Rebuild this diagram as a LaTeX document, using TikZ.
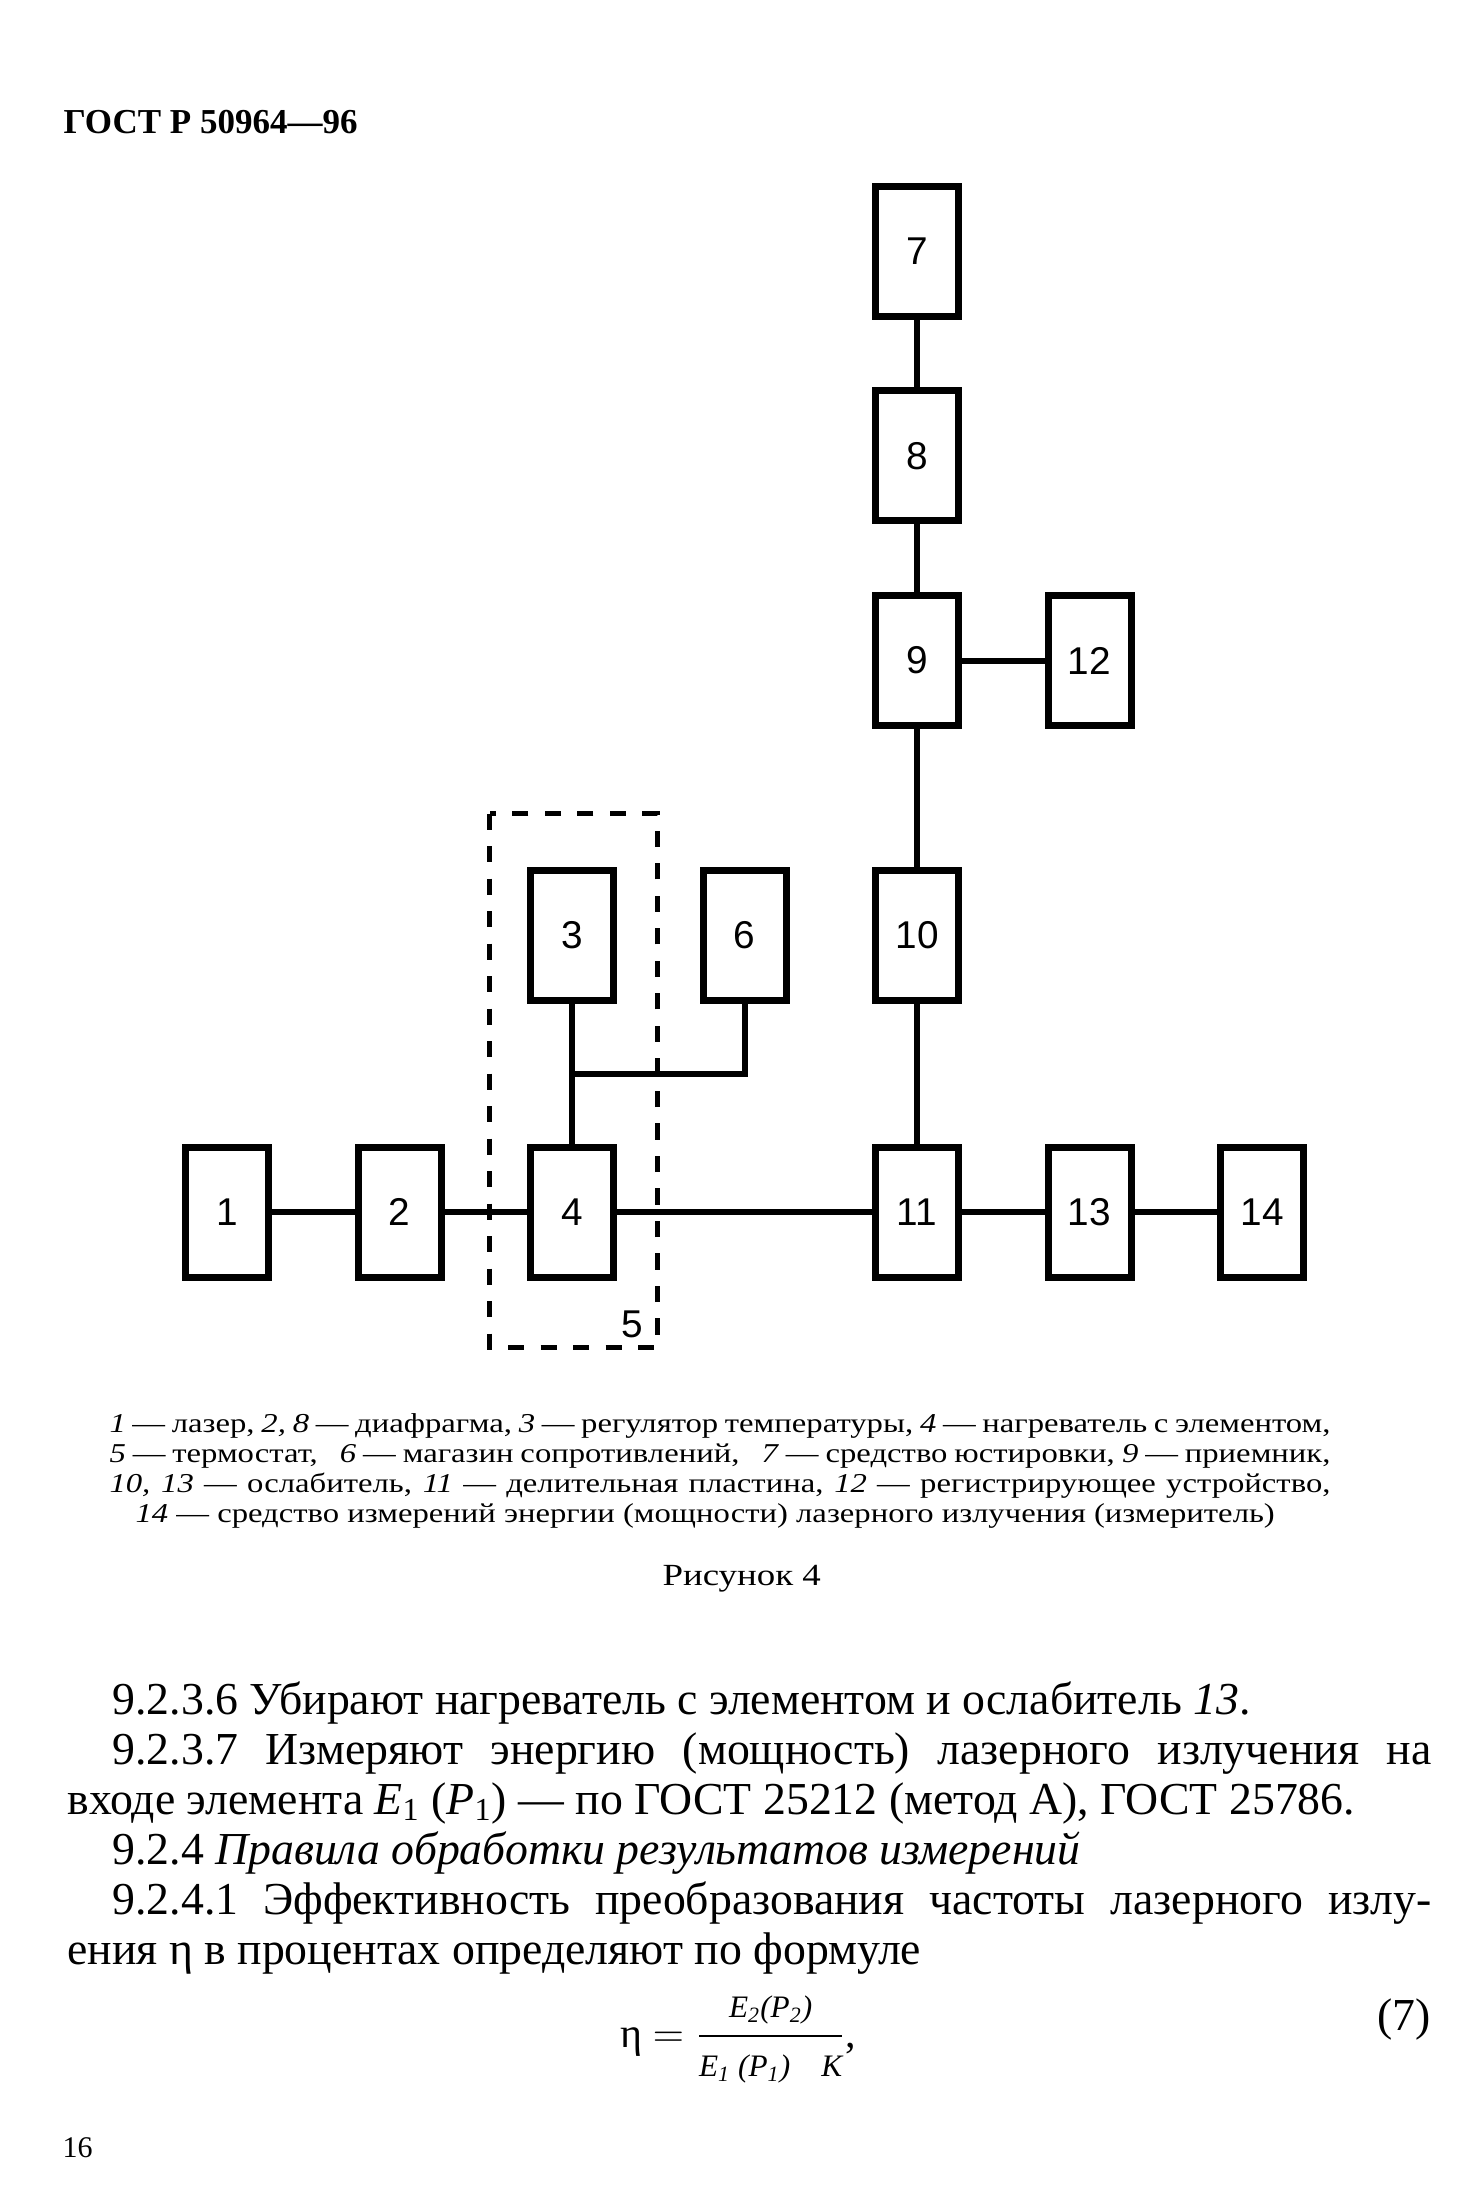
\documentclass[tikz,border=0pt]{standalone}
\usepackage{amsmath}
\usepackage{fontspec}
\setmainfont{Liberation Serif}
\newfontfamily\blockfont{Liberation Sans}
\newfontfamily\capfont[FakeStretch=1.2]{Liberation Serif}
\usetikzlibrary{positioning,calc}

\begin{document}
\begin{tikzpicture}[
      x=0.4pt, y=-0.4pt,
      block/.style={draw, line width=2.8pt, minimum width=33.2pt, minimum height=52pt,
                    inner sep=0pt, font=\blockfont\fontsize{15.5}{18}\selectfont},
      wire/.style={line width=2.4pt},
      frame/.style={line width=2pt, dash pattern=on 6.5pt off 6.5pt},
      txt/.style={anchor=base west, inner sep=0pt},
      legend/.style={txt, font=\capfont\fontsize{10.9}{12}\selectfont},
      body/.style={txt, font=\fontsize{18.3}{20}\selectfont},
    ]
    \path[fill=white] (0,0) rectangle (1482,2200);
    \useasboundingbox (0,0) rectangle (1482,2200);
    \node[txt, font=\bfseries\fontsize{14}{16}\selectfont] (head) at (63,133) {ГОСТ Р 50964—96};
    \node[block] (laser) at (227,1212) {1};
    \node[block, right=33pt of laser] (diaA) {2};
    \node[block, right=33pt of diaA] (heater) {4};
    \node[block, right=102pt of heater] (split) {11};
    \node[block, right=33pt of split] (attB) {13};
    \node[block, right=33pt of attB] (meter) {14};
    \node[block, above=56pt of heater] (regul) {3};
    \node[block, right=33pt of regul] (store) {6};
    \node[block, above=56pt of split] (attA) {10};
    \node[block, above=55pt of attA] (recv) {9};
    \node[block, right=33pt of recv] (rec) {12};
    \node[block, above=27pt of recv] (diaB) {8};
    \node[block, above=27pt of diaB] (adjust) {7};
    \draw[frame] (489.5,813.5) rectangle (657.5,1347.5);
    \node[font=\blockfont\fontsize{15.5}{18}\selectfont, inner sep=0pt] (thermo) at (632,1324) {5};
    \draw[wire] (laser) -- (diaA);
    \draw[wire] (diaA) -- (heater);
    \draw[wire] (heater) -- (split);
    \draw[wire] (split) -- (attB);
    \draw[wire] (attB) -- (meter);
    \draw[wire] (regul) -- (heater);
    \coordinate (tee) at ($(regul.south)!0.5!(heater.north)$);
    \draw[wire] (store) |- (tee);
    \draw[wire] (split) -- (attA);
    \draw[wire] (attA) -- (recv);
    \draw[wire] (recv) -- (diaB);
    \draw[wire] (diaB) -- (adjust);
    \draw[wire] (recv) -- (rec);
    \node[legend] (capA) at (109,1432) {\makebox[488.4pt][s]{\textit{1} — лазер, \textit{2, 8} — диафрагма, \textit{3} — регулятор температуры, \textit{4} — нагреватель с элементом,}};
    \node[legend] (capB) at (109,1462) {\makebox[488.4pt][s]{\textit{5} — термостат,\hspace{6pt} \textit{6} — магазин сопротивлений,\hspace{6pt} \textit{7} — средство юстировки, \textit{9} — приемник,}};
    \node[legend] (capC) at (109,1492) {\makebox[488.4pt][s]{\textit{10, 13} — ослабитель, \textit{11} — делительная пластина, \textit{12} — регистрирующее устройство,}};
    \node[legend] (capD) at (135,1522) {\textit{14} — средство измерений энергии (мощности) лазерного излучения (измеритель)};
    \node[txt, font=\capfont\fontsize{12.3}{14}\selectfont] (fig) at (662,1585) {Рисунок 4};
    \node[body] (parA) at (112,1714) {9.2.3.6 Убирают нагреватель с элементом и ослабитель \textit{13}.};
    \node[body] (parB) at (112,1764) {\makebox[527.6pt][s]{9.2.3.7 Измеряют энергию (мощность) лазерного излучения на}};
    \node[body] (parC) at (67,1814) {входе элемента \textit{E}\textsubscript{1} (\textit{P}\textsubscript{1}) — по ГОСТ 25212 (метод А), ГОСТ 25786.};
    \node[body] (parD) at (112,1864) {9.2.4 \textit{Правила обработки результатов измерений}};
    \node[body] (parE) at (112,1914) {\makebox[527.6pt][s]{9.2.4.1 Эффективность преобразования частоты лазерного излу-}};
    \node[body] (parF) at (67,1964) {ения η в процентах определяют по формуле};
    \node[body, font=\fontsize{16.8}{20}\selectfont] (eqn) at (620,2047) {η $=\dfrac{\mbox{\fontsize{12.5}{14}\selectfont\itshape E\textsubscript{2}(P\textsubscript{2})}}{\mbox{\fontsize{12.5}{14}\selectfont\itshape E\textsubscript{1} (P\textsubscript{1})\quad K}}$,};
    \node[body, anchor=base east] (eqno) at (1431,2030) {(7)};
    \node[txt, font=\fontsize{12}{14}\selectfont] (page) at (62,2157) {16};
  \end{tikzpicture}
\end{document}
